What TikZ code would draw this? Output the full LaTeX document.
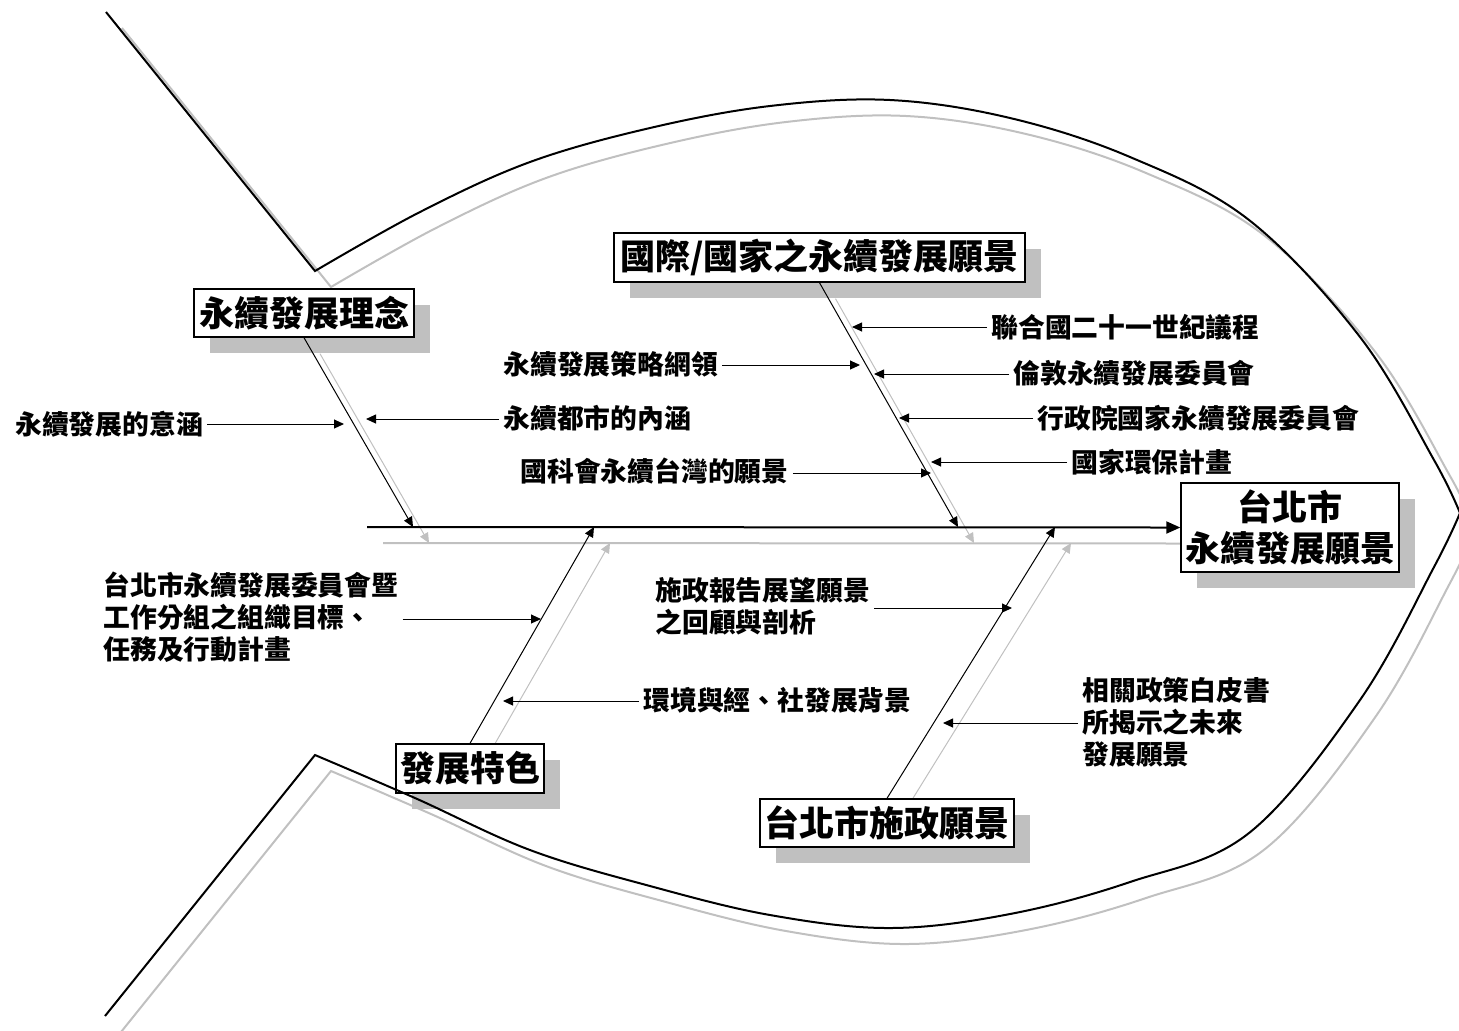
\documentclass[tikz,border=0pt]{standalone}
\usepackage{fontspec}
\setmainfont{Noto Sans CJK TC}
\usetikzlibrary{arrows.meta,shadows,backgrounds}
\definecolor{ghost}{RGB}{192,192,192}

\begin{document}
\begin{tikzpicture}[x=0.5pt, y=-0.5pt,
  fishline/.style = {line width=1pt, line join=miter},
  bone/.style = {line width=0.5pt, -{Triangle[length=5pt,width=4.5pt]}},
  spine/.style = {line width=1pt, -{Triangle[length=7pt,width=6pt]}},
  pointer/.style = {line width=0.5pt, -{Triangle[length=5pt,width=4.5pt]}},
  dropped/.style = {xshift=8pt, yshift=-8pt},
  box/.style = {draw, line width=0.7pt, fill=white, inner sep=0pt,
    font=\bfseries\fontsize{17.5}{20.5}\selectfont, align=center,
    drop shadow={shadow xshift=8pt, shadow yshift=-8pt, fill=ghost, opacity=1}},
  cause/.style = {inner sep=2pt, anchor=west, align=left,
    font=\bfseries\fontsize{13.4}{16}\selectfont}]
  \useasboundingbox (0,0) rectangle (1459,1030);

  % the five boxes
  \node[box, minimum width=110pt, minimum height=24pt] (idea) at (304,313) {永續發展理念};
  \node[box, minimum width=205.5pt, minimum height=24.5pt] (intl) at (819.5,257.5) {國際/國家之永續發展願景};
  \node[box, minimum width=109pt, minimum height=44.5pt] (goal) at (1290,527.5) {台北市\\永續發展願景};
  \node[box, minimum width=74pt, minimum height=24.5pt] (feat) at (470,768.5) {發展特色};
  \node[box, minimum width=127pt, minimum height=24pt] (gov) at (887,823) {台北市施政願景};

  % spine and bone ends
  \coordinate (tail) at (367,527);
  \coordinate (ta) at (413,527);
  \coordinate (tb) at (958,527);
  \coordinate (tc) at (594,527);
  \coordinate (td) at (1055,527);

  % grey shadows behind everything
  \begin{scope}[on background layer]
    \begin{scope}[shift={(16,16)}, ghost]
      \draw[fishline] (106,12) -- plot[smooth, tension=0.6] coordinates {(315,271) (420,212) (530,162) (650,128) (770,106) (890,100) (1010,118) (1130,157) (1249,220) (1360,337) (1434,460) (1460,513)};
      \draw[fishline] (105,1016) -- plot[smooth, tension=0.6] coordinates {(315,755) (415,798) (530,850) (650,886) (770,915) (890,928) (1010,914) (1130,882) (1249,833) (1360,700) (1434,567) (1460,513)};
    \end{scope}
    \draw[spine, ghost] ([dropped]tail) -- ([dropped]goal.west);
    \foreach \src/\side/\dst in {idea/south/ta, intl/south/tb, feat/north/tc, gov/north/td}
      \draw[bone, ghost] ([dropped]\src.\side) -- ([dropped]\dst);
  \end{scope}

  % fish outline
  \draw[fishline] (106,12) -- plot[smooth, tension=0.6] coordinates {(315,271) (420,212) (530,162) (650,128) (770,106) (890,100) (1010,118) (1130,157) (1249,220) (1360,337) (1434,460) (1460,513)};
  \draw[fishline] (105,1016) -- plot[smooth, tension=0.6] coordinates {(315,755) (415,798) (530,850) (650,886) (770,915) (890,928) (1010,914) (1130,882) (1249,833) (1360,700) (1434,567) (1460,513)};

  \draw[spine] (tail) -- (goal.west);
  \foreach \src/\side/\dst in {idea/south/ta, intl/south/tb, feat/north/tc, gov/north/td}
    \draw[bone] (\src.\side) -- (\dst);

  % causes
  \node[cause] (meaning) at (11,424) {永續發展的意涵};
  \node[cause] (urban) at (499,418) {永續都市的內涵};
  \node[cause] (strategy) at (499,364) {永續發展策略網領};
  \node[cause] (nsc) at (516,471) {國科會永續台灣的願景};
  \node[cause] (agenda) at (987,327) {聯合國二十一世紀議程};
  \node[cause] (london) at (1009,373) {倫敦永續發展委員會};
  \node[cause] (council) at (1033,418) {行政院國家永續發展委員會};
  \node[cause] (epa) at (1067,462) {國家環保計畫};
  \node[cause] (committee) at (99,617) {台北市永續發展委員會暨\\工作分組之組織目標、\\任務及行動計畫};
  \node[cause] (context) at (639,700) {環境與經、社發展背景};
  \node[cause] (report) at (651,606) {施政報告展望願景\\之回顧與剖析};
  \node[cause] (policy) at (1078,722) {相關政策白皮書\\所揭示之未來\\發展願景};

  \coordinate (meaningTip) at (344,424);
  \coordinate (urbanTip) at (366,419);
  \coordinate (strategyTip) at (860,365);
  \coordinate (nscTip) at (931,473);
  \coordinate (agendaTip) at (852,327);
  \coordinate (londonTip) at (874,374);
  \coordinate (councilTip) at (899,418);
  \coordinate (epaTip) at (931,462);
  \coordinate (committeeTip) at (541,619);
  \coordinate (contextTip) at (503,701);
  \coordinate (reportTip) at (1012,608);
  \coordinate (policyTip) at (943,723);

  \draw[pointer] (meaning.east |- meaningTip) -- (meaningTip);
  \draw[pointer] (urban.west |- urbanTip) -- (urbanTip);
  \draw[pointer] (strategy.east |- strategyTip) -- (strategyTip);
  \draw[pointer] (nsc.east |- nscTip) -- (nscTip);
  \draw[pointer] (agenda.west |- agendaTip) -- (agendaTip);
  \draw[pointer] (london.west |- londonTip) -- (londonTip);
  \draw[pointer] (council.west |- councilTip) -- (councilTip);
  \draw[pointer] (epa.west |- epaTip) -- (epaTip);
  \draw[pointer] (committee.east |- committeeTip) -- (committeeTip);
  \draw[pointer] (context.west |- contextTip) -- (contextTip);
  \draw[pointer] (report.east |- reportTip) -- (reportTip);
  \draw[pointer] (policy.west |- policyTip) -- (policyTip);
\end{tikzpicture}
\end{document}
